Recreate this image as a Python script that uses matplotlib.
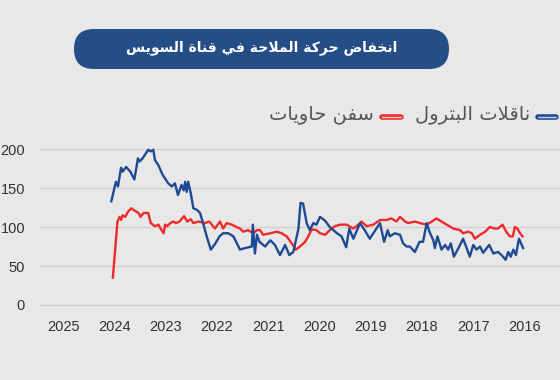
import matplotlib
matplotlib.use("Agg")
import matplotlib.pyplot as plt
from matplotlib.patches import FancyBboxPatch

# ---- data ----
tanker_year = [2024.06, 2023.97, 2023.93, 2023.87, 2023.84, 2023.77, 2023.69, 2023.61, 2023.54, 2023.51,
               2023.45, 2023.38, 2023.34, 2023.29, 2023.24, 2023.21, 2023.14, 2023.06, 2022.95, 2022.88,
               2022.82, 2022.76, 2022.69, 2022.65, 2022.62, 2022.59, 2022.56, 2022.51, 2022.46, 2022.39,
               2022.33, 2022.27, 2022.20, 2022.12, 2022.04, 2021.95, 2021.88, 2021.78, 2021.68, 2021.61,
               2021.55, 2021.45, 2021.32, 2021.30, 2021.26, 2021.22, 2021.17, 2021.06, 2020.96, 2020.87,
               2020.77, 2020.67, 2020.59, 2020.51, 2020.41, 2020.37, 2020.32, 2020.25, 2020.19, 2020.12,
               2020.06, 2019.99, 2019.89, 2019.80, 2019.66, 2019.57, 2019.48, 2019.42, 2019.34, 2019.21,
               2019.11, 2019.02, 2018.92, 2018.82, 2018.74, 2018.67, 2018.63, 2018.53, 2018.43, 2018.37,
               2018.30, 2018.24, 2018.14, 2018.05, 2017.98, 2017.91, 2017.85, 2017.78, 2017.75, 2017.70,
               2017.62, 2017.55, 2017.49, 2017.44, 2017.38, 2017.29, 2017.20, 2017.13, 2017.07, 2017.00,
               2016.94, 2016.87, 2016.81, 2016.69, 2016.61, 2016.52, 2016.45, 2016.37, 2016.32, 2016.27,
               2016.22, 2016.17, 2016.11, 2016.03]
tanker_val = [133, 158, 152, 176, 171, 177, 171, 161, 188, 184,
              188, 195, 199, 197, 199, 186, 179, 167, 156, 152,
              156, 141, 154, 147, 158, 145, 158, 143, 124, 122,
              118, 105, 88, 71, 78, 88, 92, 92, 88, 79,
              71, 73, 75, 103, 66, 90, 81, 75, 83, 77,
              64, 77, 64, 68, 98, 131, 130, 105, 96, 105,
              103, 113, 108, 100, 92, 88, 74, 98, 85, 105,
              95, 85, 95, 105, 81, 96, 88, 92, 90, 79,
              75, 75, 68, 81, 81, 105, 93, 83, 73, 88,
              71, 77, 71, 79, 62, 73, 85, 73, 62, 77,
              71, 75, 67, 77, 66, 68, 64, 58, 68, 62,
              71, 64, 85, 73]

container_year = [2024.03, 2023.94, 2023.90, 2023.87, 2023.84, 2023.79, 2023.73, 2023.67, 2023.63, 2023.58,
                  2023.53, 2023.49, 2023.43, 2023.34, 2023.29, 2023.21, 2023.14, 2023.10, 2023.04, 2023.01,
                  2022.97, 2022.91, 2022.85, 2022.80, 2022.73, 2022.64, 2022.58, 2022.51, 2022.46, 2022.36,
                  2022.23, 2022.15, 2022.10, 2022.04, 2021.94, 2021.88, 2021.81, 2021.71, 2021.65, 2021.55,
                  2021.49, 2021.39, 2021.29, 2021.22, 2021.16, 2021.10, 2020.96, 2020.83, 2020.74, 2020.64,
                  2020.54, 2020.46, 2020.38, 2020.28, 2020.22, 2020.15, 2020.06, 2019.99, 2019.89, 2019.80,
                  2019.70, 2019.60, 2019.47, 2019.34, 2019.24, 2019.18, 2019.08, 2018.95, 2018.82, 2018.69,
                  2018.60, 2018.50, 2018.43, 2018.33, 2018.27, 2018.14, 2018.04, 2017.91, 2017.81, 2017.72,
                  2017.62, 2017.52, 2017.39, 2017.26, 2017.20, 2017.10, 2017.03, 2016.97, 2016.87, 2016.77,
                  2016.68, 2016.58, 2016.52, 2016.43, 2016.36, 2016.29, 2016.23, 2016.19, 2016.14, 2016.09,
                  2016.04]
container_val = [35, 107, 113, 109, 115, 113, 120, 124, 122, 120,
                 118, 113, 118, 118, 105, 101, 103, 98, 92, 103,
                 101, 105, 107, 105, 107, 114, 107, 110, 105, 107,
                 105, 107, 103, 98, 107, 98, 105, 103, 101, 98,
                 94, 96, 92, 96, 96, 90, 92, 94, 92, 88,
                 79, 71, 75, 81, 88, 97, 96, 92, 90, 96,
                 101, 103, 103, 98, 103, 107, 101, 103, 109, 109,
                 111, 107, 113, 107, 105, 107, 105, 103, 107, 111,
                 107, 103, 98, 96, 92, 94, 92, 85, 90, 94,
                 100, 98, 98, 103, 94, 88, 88, 100, 98, 92,
                 88]

years = [2025, 2024, 2023, 2022, 2021, 2020, 2019, 2018, 2017, 2016]
yticks = [0, 50, 100, 150, 200]

title = "انخفاض حركة الملاحة في قناة السويس"
label_tanker = "ناقلات البترول"
label_container = "سفن حاويات"

# ---- minimal Arabic shaping (matplotlib draws glyphs left to right, unjoined) ----
FORMS = {  # isolated, final, initial, medial
    'ا': ('\uFE8D', '\uFE8E', None, None),
    'ب': ('\uFE8F', '\uFE90', '\uFE91', '\uFE92'),
    'ة': ('\uFE93', '\uFE94', None, None),
    'ت': ('\uFE95', '\uFE96', '\uFE97', '\uFE98'),
    'ح': ('\uFEA1', '\uFEA2', '\uFEA3', '\uFEA4'),
    'خ': ('\uFEA5', '\uFEA6', '\uFEA7', '\uFEA8'),
    'ر': ('\uFEAD', '\uFEAE', None, None),
    'س': ('\uFEB1', '\uFEB2', '\uFEB3', '\uFEB4'),
    'ض': ('\uFEBD', '\uFEBE', '\uFEBF', '\uFEC0'),
    'ف': ('\uFED1', '\uFED2', '\uFED3', '\uFED4'),
    'ق': ('\uFED5', '\uFED6', '\uFED7', '\uFED8'),
    'ك': ('\uFED9', '\uFEDA', '\uFEDB', '\uFEDC'),
    'ل': ('\uFEDD', '\uFEDE', '\uFEDF', '\uFEE0'),
    'م': ('\uFEE1', '\uFEE2', '\uFEE3', '\uFEE4'),
    'ن': ('\uFEE5', '\uFEE6', '\uFEE7', '\uFEE8'),
    'و': ('\uFEED', '\uFEEE', None, None),
    'ي': ('\uFEF1', '\uFEF2', '\uFEF3', '\uFEF4'),
}


def joins_next(c):
    return c in FORMS and FORMS[c][2] is not None


def shape(text):
    out = []
    i = 0
    n = len(text)
    while i < n:
        c = text[i]
        if c not in FORMS:
            out.append(c)
            i += 1
            continue
        after_join = i > 0 and joins_next(text[i - 1])
        if c == 'ل' and i + 1 < n and text[i + 1] == 'ا':
            out.append('\uFEFC' if after_join else '\uFEFB')
            i += 2
            continue
        before_join = joins_next(c) and i + 1 < n and text[i + 1] in FORMS
        iso, fin, ini, med = FORMS[c]
        if after_join and before_join:
            out.append(med)
        elif after_join:
            out.append(fin)
        elif before_join:
            out.append(ini)
        else:
            out.append(iso)
        i += 1
    return ''.join(reversed(out))


BG = '#e8e8e8'
BLUE = '#1f4a93'
RED = '#ee2b2b'

fig = plt.figure(figsize=(5.6, 3.8), dpi=100, facecolor=BG)

ax = fig.add_axes([39 / 560, (380 - 312.8) / 380, 521 / 560, 171.6 / 380])
ax.set_facecolor(BG)
ax.plot(tanker_year, tanker_val, color=BLUE, lw=1.7, zorder=3, solid_joinstyle='round')
ax.plot(container_year, container_val, color=RED, lw=1.7, zorder=2, solid_joinstyle='round')
ax.set_xlim(2025.47, 2015.31)
ax.set_ylim(-10, 210)
ax.set_xticks(years)
ax.set_xticklabels([str(y) for y in years])
ax.set_yticks(yticks)
ax.grid(axis='y', color='#d2d2d2', lw=1.0)
ax.grid(axis='x', visible=False)
for s in ax.spines.values():
    s.set_visible(False)
ax.tick_params(length=0, labelsize=10.5, labelcolor='#333333')
ax.tick_params(axis='y', pad=10)
ax.tick_params(axis='x', pad=5)
for lab in ax.get_xticklabels() + ax.get_yticklabels():
    lab.set_fontfamily('Liberation Sans')

# overlay in pixel coordinates for title box and legend
ov = fig.add_axes([0, 0, 1, 1])
ov.set_xlim(0, 560)
ov.set_ylim(380, 0)
ov.axis('off')
ov.patch.set_visible(False)

box = FancyBboxPatch((74, 29), 375, 40, boxstyle='round,pad=0,rounding_size=20',
                     facecolor='#264e86', edgecolor='none')
ov.add_patch(box)
ov.text(261.5, 48, shape(title), color='white', fontsize=10, fontweight='bold',
        family='DejaVu Sans', ha='center', va='center')

for x0, x1, col in [(538, 556, BLUE), (382, 401, RED)]:
    ov.plot([x0, x1], [116.5, 116.5], color=col, lw=4, solid_capstyle='round')
    ov.plot([x0, x1], [116.5, 116.5], color='#f3c8c8' if col == RED else '#c8d3e8',
            lw=1, solid_capstyle='round')
ov.text(530, 115, shape(label_tanker), color='#555555', fontsize=14,
        family='DejaVu Sans', ha='right', va='center')
ov.text(374, 115, shape(label_container), color='#555555', fontsize=14,
        family='DejaVu Sans', ha='right', va='center')

fig.savefig('out.png', dpi=100, facecolor=BG)
